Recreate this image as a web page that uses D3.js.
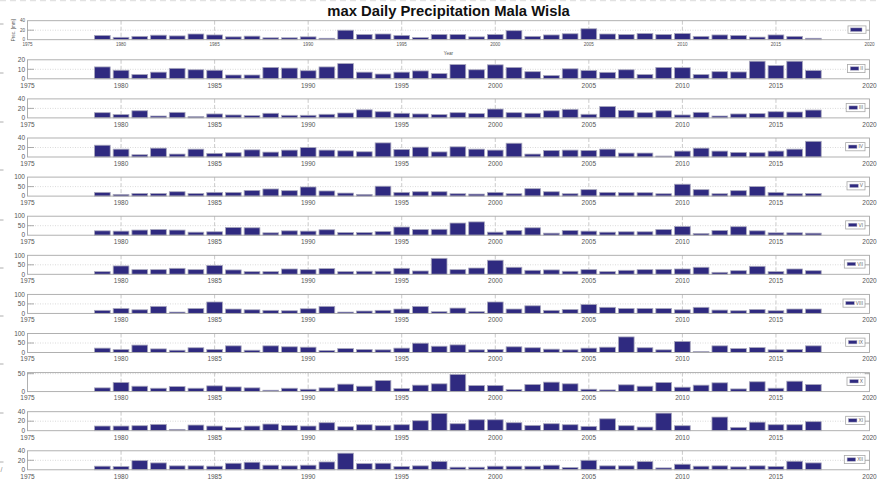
<!DOCTYPE html>
<html><head><meta charset="utf-8">
<script src="https://cdn.jsdelivr.net/npm/d3@7"></script>
<style>body{margin:0;background:#fff}svg{display:block}text{font-family:"Liberation Sans",Arial,sans-serif}</style>
</head><body><svg id="c" width="879" height="482"></svg>
<script>
const title = "max Daily Precipitation Mala Wisla";
const years = [1979,1980,1981,1982,1983,1984,1985,1986,1987,1988,1989,1990,1991,1992,1993,1994,1995,1996,1997,1998,1999,2000,2001,2002,2003,2004,2005,2006,2007,2008,2009,2010,2011,2012,2013,2014,2015,2016,2017];
const monthLabels = ["I","II","III","IV","V","VI","VII","VIII","IX","X","XI","XII"];
const precI    = [9,5,7,9.5,8,12,10,6,7.5,4,4,6,3,20,11,12,9,4.5,11, 11,6,11,19,7,10,12.5,23,12,11,13,11,13,7,10,9,5.5,10,7,3];
const precII   = [12.5,9,4.5,7,11,9.5,9,4,4,12,11.3,8.5,12.5,16,7,5,7,8.3,5.5, 15,9.5,14.7,12,7.5,3.5,10.5,8.7,6.8,9.5,4.5,12,11.7,4.5,7.5,7.2,18.5,14,18.5,8.7];
const precIII  = [11,7,15,4,11.7,2.7,8.3,6.2,4.8,9.7,5.5,5.5,7.6,10.3,17,13,9.7,8.3,7, 11,9,18.6,11,9.7,15,18,7.6,24,15.8,11,15,6.2,11.7,4,8.3,9,13,12.4,16.5];
const precIV   = [24.8,16.5,4.8,18.6,6.2,16.5,7.6,9,15,10.3,14.5,20,14.5,13,11,29.7,15.8,20.7,10.7, 21.4,16.5,14.5,29,6.2,13.8,14.5,13.8,16.5,8.3,8.3,2,12.4,18.6,12.4,9.7,9,12.4,16.5,33];
const precV    = [19.6,9,14,14,23,14,19.6,19.6,30,37.5,28.6,48,27,16,9,52,19.6,23,23, 12.5,10.7,19.6,12.5,39,23,12.5,34,19.6,18,18,12.5,62.5,34,12.5,28.6,50,19.6,12.5,14];
const precVI   = [23,21.4,27,30,27,16,18,41,39,12.5,23,21.4,28.6,14,14,19.6,43,30,31, 64,70,16,25,39,10.7,25,21.4,16,18,18,30,46,9,25,44.6,23,12.5,12.5,10.7];
const precVII  = [14,44,24.5,24.5,31.5,24.5,47,23,14,14,28,24.5,30,14,16,16,31.5,17.5,84, 24.5,33,74,37,21,23,16,24.5,14,21,24.5,26,28,37,10.5,19,42,14,28,19];
const precVIII = [16,26,19,37,7,26,60,23,19,16,14,24.5,37,7,12.5,16,23,37,9, 28,9,60,23,40,16,21,47,32,26,26,26,19,32,17.5,14,21,14,23,23];
const precIX   = [23,16,39,19,12,25,16,35,12,35,30,28,10.5,21,16,14,23,49,33, 40,14,16,30,25,17.5,14,23,28,82,25,14,58,5,35,21,26,14,16,35];
const precX    = [10.4,25.5,15,9.4,14,9.4,16,13,10.4,3.8,9.4,6.6,10.4,20.8,15,31,8.5,18,21.7, 48,17,17,5.7,19.8,26.4,21.7,6.6,4.7,18.9,15,25.5,12.3,18,24.5,7.5,27.4,9.4,29,19.8];
const precXI   = [9.8,9.8,10.5,13.3,2.8,11.9,9.8,7,9.8,14,11.2,9.8,16.8,8.4,12.6,10.5,12.6,21,36.4, 14.7,23,23,16.8,11.2,14.7,12.6,9.1,25,10.5,7.7,37,10.5,0,28.7,7,18,12.6,12.6,19];
const precXII  = [7.6,6.9,19.3,14.5,8.3,8.3,7.6,13.8,15.9,9.7,8.3,9.7,16.5,35,13,13.8,6.9,8.3,17.5, 5.5,5.5,7.6,7.6,7.6,9.7,4.8,20,8.3,8.3,17.2,4,11.7,7.6,8.3,6.2,8.3,6.9,18,14.5];
const series = [precI,precII,precIII,precIV,precV,precVI,precVII,precVIII,precIX,precX,precXI,precXII];
const yMax   = [40,20,40,40,100,100,100,100,100,53,40,40];
const yTicks = [[0,20,40],[0,10,20],[0,20,40],[0,20,40],[0,50,100],[0,50,100],[0,50,100],[0,50,100],[0,50,100],[0,50],[0,20,40],[0,20,40]];
const xTicks = [1975,1980,1985,1990,1995,2000,2005,2010,2015,2020];
const yLabel = "Prec. [mm]";
const xLabel = "Year";
const edgeMarks = [24,73,122,170,220,268,316,364,413,462];

const svg = d3.select("#c");
const X0 = 27.5, X1 = 869.5, TOP0 = 20.7, STEP = 39.1, H = 19;
const x = d3.scaleLinear().domain([1975, 2020]).range([X0, X1]);
const bw = (x(1976) - x(1975)) * 0.84;
const BAR = "#2f2a80", EDGE = "#a9a8bd", BOX = "#a8a8a8", TXT = "#555";

// faint residue along the top edge
svg.append("line").attr("x1", 0).attr("x2", 879).attr("y1", 0.7).attr("y2", 0.7)
  .attr("stroke", "#e2e2e2").attr("stroke-width", 1.2).attr("stroke-dasharray", "6,4");

svg.append("text").attr("x", (X0 + X1) / 2).attr("y", 16.3).attr("text-anchor", "middle")
  .attr("font-weight", "bold").attr("font-size", 14.8).attr("fill", "#111").text(title);

// clipped leftovers at left edge
svg.selectAll("line.edge").data(edgeMarks).enter().append("line")
  .attr("x1", 0).attr("x2", 3.5).attr("y1", d => d).attr("y2", d => d)
  .attr("stroke", "#999").attr("stroke-width", 0.8);
svg.append("text").attr("x", 0.5).attr("y", 471.5).attr("font-size", 7).attr("fill", "#888").text("/");

series.forEach((vals, i) => {
  const top = TOP0 + i * STEP, bot = top + H;
  const small = i === 0;
  const fs = small ? 4.6 : 6.5;
  const y = d3.scaleLinear().domain([0, yMax[i]]).range([bot, top]);
  const g = svg.append("g");
  g.append("rect").attr("x", X0).attr("y", top).attr("width", X1 - X0).attr("height", H).attr("fill", "#fff");
  // grids
  g.selectAll("line.vg").data(xTicks.slice(1, -1)).enter().append("line")
    .attr("x1", d => x(d)).attr("x2", d => x(d)).attr("y1", top).attr("y2", bot)
    .attr("stroke", "#c4c4c4").attr("stroke-width", 0.9).attr("stroke-dasharray", "4,2");
  g.selectAll("line.hg").data(yTicks[i].filter(t => t > 0 && t < yMax[i] - 1)).enter().append("line")
    .attr("x1", X0).attr("x2", X1).attr("y1", d => y(d)).attr("y2", d => y(d))
    .attr("stroke", "#d0d0d0").attr("stroke-width", 0.8).attr("stroke-dasharray", "1,1.5");
  // bars
  g.selectAll("rect.bar").data(years.map((yr, k) => ({yr, v: vals[k]})).filter(d => d.v > 0)).enter().append("rect")
    .attr("x", d => x(d.yr) - bw / 2).attr("width", bw)
    .attr("y", d => y(d.v)).attr("height", d => bot - y(d.v))
    .attr("fill", BAR).attr("stroke", EDGE).attr("stroke-width", 0.8);
  // box
  g.append("rect").attr("x", X0).attr("y", top).attr("width", X1 - X0).attr("height", H)
    .attr("fill", "none").attr("stroke", BOX).attr("stroke-width", 0.9);
  // y ticks
  yTicks[i].forEach(t => {
    if (t > 0 && t < yMax[i] - 0.5) {
      g.append("line").attr("x1", X0).attr("x2", X0 + 6.5).attr("y1", y(t)).attr("y2", y(t)).attr("stroke", "#999").attr("stroke-width", 0.8);
      g.append("line").attr("x1", X1 - 5).attr("x2", X1).attr("y1", y(t)).attr("y2", y(t)).attr("stroke", "#999").attr("stroke-width", 0.8);
    }
    g.append("text").attr("x", X0 - 2.5).attr("y", y(t)).attr("dy", "0.35em").attr("text-anchor", "end")
      .attr("font-size", fs).attr("fill", TXT).text(t);
  });
  // x tick labels
  g.selectAll("text.xt").data(xTicks).enter().append("text")
    .attr("x", d => x(d)).attr("y", bot + (small ? 4.3 : 6.6)).attr("dy", "0.35em").attr("text-anchor", "middle")
    .attr("font-size", fs).attr("fill", TXT).text(d => d);
  // legend
  const lg = g.append("g");
  const ly = top + 4.6, lh = small ? 7.4 : 8.2;
  if (small) {
    lg.append("rect").attr("x", 848).attr("y", ly + 0.6).attr("width", 18).attr("height", lh)
      .attr("fill", "#fff").attr("stroke", BOX).attr("stroke-width", 0.8);
    lg.append("rect").attr("x", 850.5).attr("y", ly + 2.6).attr("width", 11.5).attr("height", 3.6).attr("fill", BAR).attr("stroke", EDGE).attr("stroke-width", 0.5);
  } else {
    const t = lg.append("text").attr("font-size", 4.8).attr("fill", "#666").attr("dy", "0.35em").text(monthLabels[i]);
    const tw = t.node().getComputedTextLength();
    const right = 865, left = right - (2.8 + 8.5 + 1.5 + tw + 2);
    lg.insert("rect", "text").attr("x", left).attr("y", ly).attr("width", right - left).attr("height", lh)
      .attr("fill", "#fff").attr("stroke", BOX).attr("stroke-width", 0.8);
    lg.insert("rect", "text").attr("x", left + 2.8).attr("y", ly + 2.4).attr("width", 8.5).attr("height", 3.4)
      .attr("fill", BAR).attr("stroke", EDGE).attr("stroke-width", 0.5);
    t.attr("x", left + 2.8 + 8.5 + 1.5).attr("y", ly + lh / 2);
  }
  if (small) {
    g.append("text").attr("transform", `translate(15,${(top + bot) / 2}) rotate(-90)`).attr("text-anchor", "middle")
      .attr("font-size", 4.6).attr("fill", TXT).text(yLabel);
    g.append("text").attr("x", (X0 + X1) / 2).attr("y", 53).attr("dy", "0.35em").attr("text-anchor", "middle")
      .attr("font-size", 4.6).attr("fill", TXT).text(xLabel);
  }
});
</script></body></html>
